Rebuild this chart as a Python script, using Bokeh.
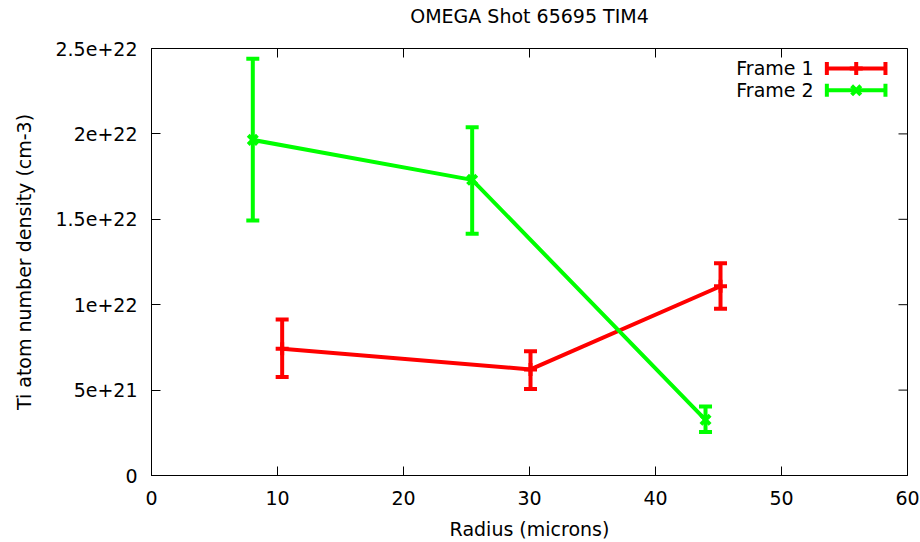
import math
from bokeh.plotting import figure
from bokeh.models import (ColumnDataSource, Whisker, TeeHead, Range1d, FixedTicker, Label)
from bokeh.embed import file_html
from bokeh.resources import INLINE

# ---- data ----
title = "OMEGA Shot 65695 TIM4"
x_label = "Radius (microns)"
y_label = "Ti atom number density (cm-3)"

f1_radius = [10.37, 30.08, 45.16]
f1_dens = [7.42e21, 6.21e21, 11.08e21]
f1_low = [5.76e21, 5.07e21, 9.76e21]
f1_high = [9.13e21, 7.28e21, 12.43e21]

f2_radius = [8.04, 25.45, 43.97]
f2_dens = [19.65e21, 17.31e21, 3.26e21]
f2_low = [14.93e21, 14.15e21, 2.54e21]
f2_high = [24.4e21, 20.39e21, 4.04e21]

series_names = ["Frame 1", "Frame 2"]
series_colors = ["#ff0000", "#00ff00"]
series_markers = ["cross", "x"]

x_ticks = [0, 10, 20, 30, 40, 50, 60]
y_ticks = [0, 5e21, 1e22, 1.5e22, 2e22, 2.5e22]
y_tick_labels = ["0", "5e+21", "1e+22", "1.5e+22", "2e+22", "2.5e+22"]

FONT = "DejaVu Sans"
FS = "19px"

p = figure(width=920, height=542, output_backend="svg", toolbar_location=None,
           x_range=Range1d(x_ticks[0], x_ticks[-1]), y_range=Range1d(y_ticks[0], y_ticks[-1]),
           min_border_left=151, min_border_right=13, min_border_top=48, min_border_bottom=67,
           x_axis_label=x_label, y_axis_label=y_label)
p.xgrid.visible = False
p.ygrid.visible = False
p.outline_line_color = "black"
p.outline_line_width = 1
p.background_fill_color = "white"
p.border_fill_color = "white"

p.title.text = title
p.title.align = "center"
p.title.vertical_align = "top"
p.title.text_font = FONT
p.title.text_font_size = FS
p.title.text_font_style = "normal"
p.title.text_color = "black"
p.title.standoff = 4
p.title.padding = dict(left=0, right=0, top=0, bottom=18)

for ax in p.xaxis + p.yaxis:
    ax.major_tick_in = 9
    ax.major_tick_out = 0
    ax.minor_tick_line_color = None
    ax.major_label_text_font = FONT
    ax.major_label_text_font_size = FS
    ax.major_label_text_color = "black"
    ax.axis_label_text_font = FONT
    ax.axis_label_text_font_size = FS
    ax.axis_label_text_font_style = "normal"
    ax.axis_label_text_color = "black"
    ax.axis_line_color = "black"
    ax.major_tick_line_color = "black"

p.xaxis.ticker = FixedTicker(ticks=x_ticks)
p.yaxis.ticker = FixedTicker(ticks=y_ticks)
p.yaxis.major_label_overrides = {t: l for t, l in zip(y_ticks, y_tick_labels)}
p.xaxis.major_label_standoff = 15
p.yaxis.major_label_standoff = 14
p.xaxis.axis_label_standoff = 10
p.yaxis.axis_label_standoff = 17

# mirror ticks on top and right edges (half of each dash is clipped by the frame)
top_src = ColumnDataSource(dict(x=x_ticks, y=[y_ticks[-1]] * len(x_ticks)))
right_src = ColumnDataSource(dict(x=[x_ticks[-1]] * len(y_ticks), y=y_ticks))
p.scatter("x", "y", source=top_src, marker="dash", angle=math.pi / 2, size=18,
          line_color="black", line_width=1)
p.scatter("x", "y", source=right_src, marker="dash", size=18,
          line_color="black", line_width=1)

series = [(f1_radius, f1_dens, f1_low, f1_high), (f2_radius, f2_dens, f2_low, f2_high)]
for (r, d, lo, hi), color, mk in zip(series, series_colors, series_markers):
    src = ColumnDataSource(dict(r=r, d=d, lo=lo, hi=hi))
    p.line("r", "d", source=src, line_color=color, line_width=4)
    w = Whisker(base="r", lower="lo", upper="hi", source=src, dimension="height",
                line_color=color, line_width=4,
                upper_head=TeeHead(size=13, line_color=color, line_width=4),
                lower_head=TeeHead(size=13, line_color=color, line_width=4))
    p.add_layout(w)
    p.scatter("r", "d", source=src, marker=mk, size=13, line_color=color,
              fill_color=color, line_width=4)

# ---- legend (drawn manually, gnuplot style) ----
leg_x0, leg_x1, leg_xm, leg_text_x = 53.6, 58.25, 55.93, 52.55
leg_y = [23.83e21, 22.55e21]
for name, color, mk, y in zip(series_names, series_colors, series_markers, leg_y):
    src = ColumnDataSource(dict(y=[y], lo=[leg_x0], hi=[leg_x1], xm=[leg_xm]))
    w = Whisker(base="y", lower="lo", upper="hi", source=src, dimension="width",
                line_color=color, line_width=4,
                upper_head=TeeHead(size=13, line_color=color, line_width=4),
                lower_head=TeeHead(size=13, line_color=color, line_width=4))
    p.add_layout(w)
    p.scatter("xm", "y", source=src, marker=mk, size=13, line_color=color,
              fill_color=color, line_width=4)
    p.add_layout(Label(x=leg_text_x, y=y, text=name, text_align="right",
                       text_baseline="middle", text_font=FONT, text_font_size=FS,
                       text_color="black"))

open("out.html", "w").write(file_html(p, INLINE))
